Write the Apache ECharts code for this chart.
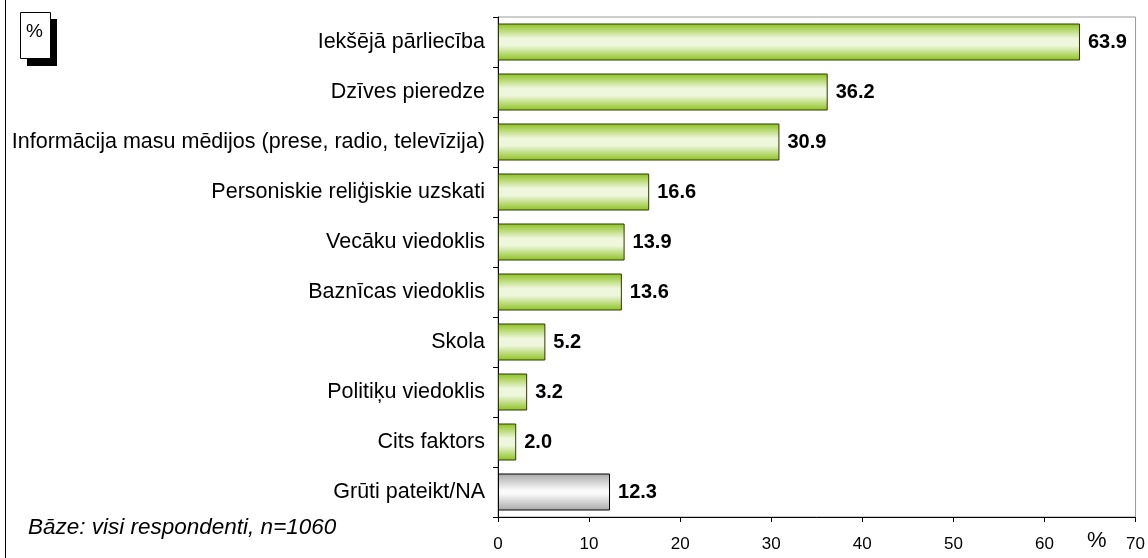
<!DOCTYPE html>
<html>
<head>
<meta charset="utf-8">
<script src="https://cdn.jsdelivr.net/npm/echarts@6/dist/echarts.min.js"></script>
<style>
  html, body { margin: 0; padding: 0; background: #fff; }
  #chart { width: 1148px; height: 558px; }
</style>
</head>
<body>
<div id="chart"></div>
<script>
const categories = [
  'Iekšējā pārliecība',
  'Dzīves pieredze',
  'Informācija masu mēdijos (prese, radio, televīzija)',
  'Personiskie reliģiskie uzskati',
  'Vecāku viedoklis',
  'Baznīcas viedoklis',
  'Skola',
  'Politiķu viedoklis',
  'Cits faktors',
  'Grūti pateikt/NA'
];
const values = [63.9, 36.2, 30.9, 16.6, 13.9, 13.6, 5.2, 3.2, 2.0, 12.3];
const greyIndex = 9; // "Grūti pateikt/NA" drawn in grey
const xTicks = [0, 10, 20, 30, 40, 50, 60, 70];

const font = 'Liberation Sans, Arial, sans-serif';

const greenFill = new echarts.graphic.LinearGradient(0, 0, 0, 1, [
  { offset: 0, color: '#8cc21f' },
  { offset: 0.4, color: '#eef6dc' },
  { offset: 0.6, color: '#eef6dc' },
  { offset: 1, color: '#8cc21f' }
]);
const greyFill = new echarts.graphic.LinearGradient(0, 0, 0, 1, [
  { offset: 0, color: '#a8a8a8' },
  { offset: 0.45, color: '#fafafa' },
  { offset: 0.55, color: '#fafafa' },
  { offset: 1, color: '#a8a8a8' }
]);

const chart = echarts.init(document.getElementById('chart'), null, { renderer: 'canvas' });
chart.setOption({
  animation: false,
  backgroundColor: '#fff',
  grid: { left: 498, right: 12, top: 17, bottom: 41, show: true, borderColor: '#9a9a9a', borderWidth: 1 },
  xAxis: {
    type: 'value',
    min: xTicks[0],
    max: xTicks[xTicks.length - 1],
    interval: 10,
    splitLine: { show: false },
    axisLine: { show: true, lineStyle: { color: '#000', width: 1 } },
    axisTick: { show: true, length: 5, lineStyle: { color: '#000' } },
    axisLabel: { color: '#000', fontFamily: font, fontSize: 17, margin: 19 }
  },
  yAxis: {
    type: 'category',
    inverse: true,
    data: categories,
    axisLine: { show: true, lineStyle: { color: '#000', width: 1 } },
    axisTick: { show: true, length: 5, alignWithLabel: false, lineStyle: { color: '#000' } },
    axisLabel: { color: '#000', fontFamily: font, fontSize: 21.5, margin: 13 }
  },
  series: [{
    type: 'bar',
    barWidth: 37,
    data: values.map((v, i) => ({
      value: v,
      itemStyle: {
        color: i === greyIndex ? greyFill : greenFill,
        borderColor: i === greyIndex ? '#000' : '#2e3b00',
        borderWidth: 1
      }
    })),
    label: {
      show: true,
      position: 'right',
      distance: 8,
      color: '#000',
      fontFamily: font,
      fontSize: 20,
      fontWeight: 'bold',
      formatter: p => p.value.toFixed(1)
    }
  }],
  graphic: [
    { type: 'line', shape: { x1: 5.5, y1: 0, x2: 5.5, y2: 558 }, style: { stroke: '#000', lineWidth: 1 } },
    { type: 'rect', shape: { x: 27, y: 19, width: 30, height: 47 }, style: { fill: '#000' } },
    { type: 'rect', shape: { x: 20.5, y: 12.5, width: 30, height: 46 }, style: { fill: '#fff', stroke: '#000', lineWidth: 1 } },
    { type: 'text', left: 26, top: 22, style: { text: '%', font: '19px ' + font, fill: '#000' } },
    { type: 'text', left: 28, top: 516, style: { text: 'Bāze: visi respondenti, n=1060', font: 'italic 22.5px ' + font, fill: '#000' } },
    { type: 'text', left: 1087, top: 530, style: { text: '%', font: '22px ' + font, fill: '#000' } }
  ]
});
</script>
</body>
</html>
